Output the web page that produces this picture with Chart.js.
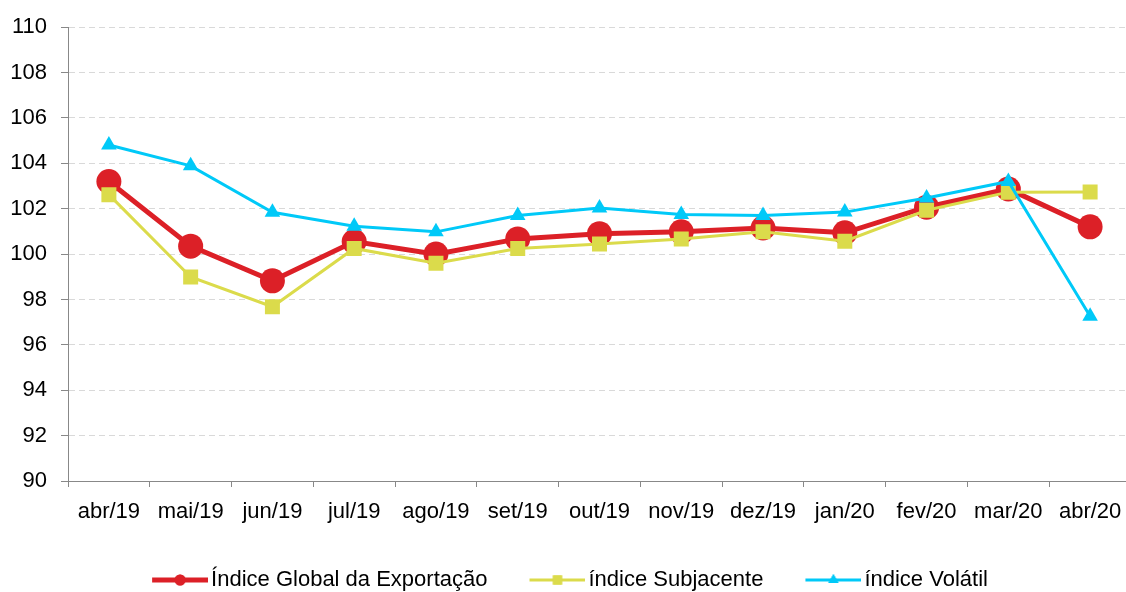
<!DOCTYPE html>
<html>
<head>
<meta charset="utf-8">
<script src="https://cdn.jsdelivr.net/npm/chart.js@4/dist/chart.umd.min.js"></script>
<style>
  html, body { margin: 0; padding: 0; background: #fff; overflow: hidden; }
  #wrap { position: relative; width: 1148px; height: 601px; }
</style>
</head>
<body>
<div id="wrap"><canvas id="c"></canvas></div>
<script>
const categories = ['abr/19','mai/19','jun/19','jul/19','ago/19','set/19','out/19','nov/19','dez/19','jan/20','fev/20','mar/20','abr/20'];
const globalIdx = [103.2, 100.35, 98.82, 100.55, 100.0, 100.67, 100.9, 100.98, 101.15, 100.94, 102.07, 102.87, 101.2];
const subjacente = [102.62, 98.99, 97.68, 100.25, 99.6, 100.25, 100.45, 100.67, 100.98, 100.57, 101.93, 102.73, 102.74];
const volatil = [104.81, 103.89, 101.84, 101.23, 100.98, 101.7, 102.03, 101.74, 101.7, 101.85, 102.47, 103.2, 97.26];
const seriesNames = ['Índice Global da Exportação', 'índice Subjacente', 'índice Volátil'];
const yTicks = [90, 92, 94, 96, 98, 100, 102, 104, 106, 108, 110];

const RED = '#dc2027', YEL = '#dbdb4b', BLUE = '#00c9f8';
const FONT = '"Liberation Sans", Arial, sans-serif';

function legendIcon(color, lw, style, r) {
  const cv = document.createElement('canvas');
  cv.width = 60; cv.height = 24;
  const ctx = cv.getContext('2d');
  ctx.strokeStyle = color; ctx.fillStyle = color; ctx.lineWidth = lw;
  ctx.beginPath(); ctx.moveTo(4, 12); ctx.lineTo(60, 12); ctx.stroke();
  Chart.helpers.drawPoint(ctx, {pointStyle: style, radius: r, borderWidth: 0}, 32, 12);
  ctx.fill();
  return cv;
}

const ds = [
  {label: seriesNames[0], data: globalIdx, borderColor: RED, backgroundColor: RED, borderWidth: 5,
   pointStyle: 'circle', pointRadius: 12.5, pointHoverRadius: 12.5, pointBorderWidth: 0, order: 3},
  {label: seriesNames[1], data: subjacente, borderColor: YEL, backgroundColor: YEL, borderWidth: 3,
   pointStyle: 'rect', pointRadius: 10.6, pointHoverRadius: 10.6, pointBorderWidth: 0, order: 2},
  {label: seriesNames[2], data: volatil, borderColor: BLUE, backgroundColor: BLUE, borderWidth: 3,
   pointStyle: 'triangle', pointRadius: 9, pointHoverRadius: 9, pointBorderWidth: 0, order: 1}
];
const icons = [legendIcon(RED, 5, 'circle', 5.5), legendIcon(YEL, 3, 'rect', 6.5), legendIcon(BLUE, 3, 'triangle', 6)];

new Chart(document.getElementById('c'), {
  type: 'line',
  data: {labels: categories, datasets: ds},
  options: {
    responsive: true, maintainAspectRatio: false, animation: false,
    layout: {padding: {top: 21, left: 0, right: 4, bottom: 0}},
    elements: {line: {tension: 0}},
    plugins: {
      tooltip: {enabled: false},
      legend: {
        position: 'bottom',
        labels: {
          usePointStyle: true, pointStyleWidth: 44, padding: 46,
          color: '#000', font: {family: FONT, size: 22},
          generateLabels: (chart) => chart.data.datasets.map((d, i) => ({
            text: d.label, pointStyle: icons[i], fillStyle: d.borderColor, strokeStyle: d.borderColor,
            lineWidth: 0, hidden: false, datasetIndex: i, fontColor: '#000'
          }))
        }
      }
    },
    scales: {
      x: {
        offset: true,
        grid: {display: true, drawOnChartArea: false, offset: true, tickLength: 6, tickColor: '#888', tickBorderDash: []},
        border: {display: true, color: '#888', width: 1},
        ticks: {color: '#000', font: {family: FONT, size: 22}, padding: 12, maxRotation: 0, autoSkip: false},
        afterFit: (s) => { s.height = 42; }
      },
      y: {
        min: 90, max: 110,
        afterBuildTicks: (s) => { s.ticks = yTicks.map(v => ({value: v})); },
        grid: {color: '#d9d9d9', lineWidth: 1, tickLength: 7, tickColor: '#888', tickBorderDash: []},
        border: {display: true, color: '#888', width: 1, dash: [6, 4]},
        ticks: {color: '#000', font: {family: FONT, size: 22}, padding: 14},
        afterFit: (s) => { s.width = 68; }
      },
      y2: {
        position: 'right', display: true,
        grid: {display: false}, ticks: {display: false}, border: {display: false},
        afterFit: (s) => { s.width = 13; }
      }
    }
  }
});
</script>
</body>
</html>
